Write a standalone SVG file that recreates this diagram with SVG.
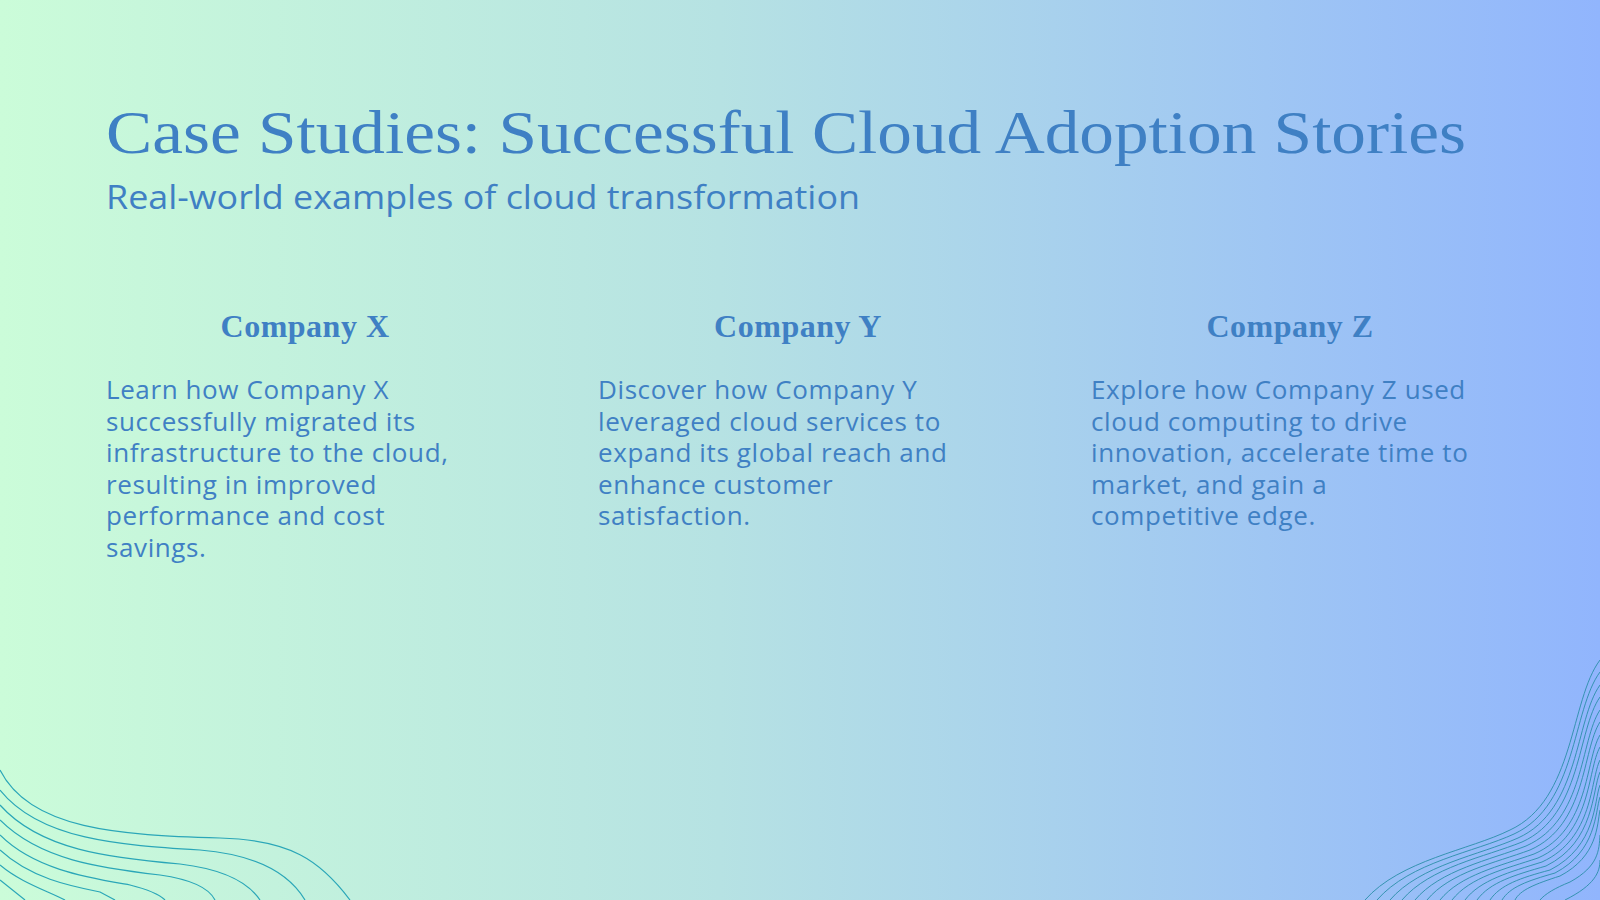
<svg xmlns="http://www.w3.org/2000/svg" width="1600" height="900" viewBox="0 0 1600 900">
<defs>
<linearGradient id="bg" x1="0" y1="0" x2="1" y2="0">
<stop offset="0" stop-color="#cbfcd9"/>
<stop offset="0.45" stop-color="#b6e2e3"/>
<stop offset="1" stop-color="#91b5fd"/>
</linearGradient>
<style>
.t{fill:#3f80c4;font-family:"Liberation Serif","DejaVu Serif",serif}
.h{fill:#3f80c4;font-family:"Liberation Serif","DejaVu Serif",serif;font-weight:bold;font-size:32px;text-anchor:middle;letter-spacing:0.5px}
.b{fill:#3f80c4;font-family:"Open Sans","Noto Sans",sans-serif;font-size:26px;letter-spacing:0.6px}
.w{fill:none;stroke:#2aa6b8;stroke-width:1.2}
.w2{fill:none;stroke:#2a8fa8;stroke-width:0.9}
</style>
</defs>
<rect width="1600" height="900" fill="url(#bg)"/>
<g id="waves-left">
<path class="w" d="M0 770 C30 830 120 835 220 838 C290 840 320 860 350 900"/>
<path class="w" d="M0 790 C40 840 120 845 200 850 C260 855 290 875 305 900"/>
<path class="w" d="M0 805 C40 850 110 858 180 864 C230 870 250 885 260 900"/>
<path class="w" d="M0 820 C40 860 100 868 160 875 C195 880 210 890 215 900"/>
<path class="w" d="M0 835 C35 870 90 878 130 885 C150 890 160 895 165 900"/>
<path class="w" d="M0 850 C30 878 70 886 100 892 L115 900"/>
<path class="w" d="M0 865 C20 882 45 890 65 900"/>
<path class="w" d="M0 880 L25 900"/>
</g>
<g id="waves-right">
<path class="w2" d="M1600 660 C1570 700 1575 800 1510 830 C1470 850 1400 860 1365 900"/>
<path class="w2" d="M1600 672 C1572 710 1577 805 1514 834 C1475 852 1410 862 1377 900"/>
<path class="w2" d="M1600 685 C1575 720 1580 810 1518 838 C1480 855 1420 865 1390 900"/>
<path class="w2" d="M1600 697 C1577 730 1582 815 1522 842 C1485 857 1430 867 1402 900"/>
<path class="w2" d="M1600 710 C1580 740 1585 820 1526 846 C1490 860 1440 870 1415 900"/>
<path class="w2" d="M1600 722 C1582 750 1587 825 1530 850 C1495 863 1450 872 1427 900"/>
<path class="w2" d="M1600 735 C1585 760 1590 830 1534 854 C1500 866 1460 875 1440 900"/>
<path class="w2" d="M1600 747 C1587 770 1592 834 1538 858 C1505 869 1470 877 1452 900"/>
<path class="w2" d="M1600 760 C1590 780 1594 838 1542 862 C1510 872 1480 880 1465 900"/>
<path class="w2" d="M1600 772 C1592 790 1595 842 1546 866 C1515 875 1490 882 1477 900"/>
<path class="w2" d="M1600 785 C1594 800 1597 846 1550 870 C1520 878 1500 885 1490 900"/>
<path class="w2" d="M1600 797 C1595 812 1597 851 1555 873 C1527 881 1510 887 1502 900"/>
<path class="w2" d="M1600 810 C1597 825 1598 856 1560 876 C1535 884 1520 890 1515 900"/>
<path class="w2" d="M1600 835 C1599 850 1599 866 1570 882 C1555 888 1545 894 1540 900"/>
<path class="w2" d="M1600 860 C1600 872 1595 885 1565 900"/>
</g>
<g id="title">
<text class="t" x="106" y="153" font-size="62" textLength="1360" lengthAdjust="spacingAndGlyphs">Case Studies: Successful Cloud Adoption Stories</text>
<text class="b" x="106" y="209" textLength="754" lengthAdjust="spacingAndGlyphs" style="font-size:33px;letter-spacing:0">Real-world examples of cloud transformation</text>
</g>
<g id="company-x">
<text class="h" x="305" y="337">Company X</text>
<text class="b"><tspan x="106" y="399">Learn how Company X</tspan><tspan x="106" y="431">successfully migrated its</tspan><tspan x="106" y="462">infrastructure to the cloud,</tspan><tspan x="106" y="494">resulting in improved</tspan><tspan x="106" y="525">performance and cost</tspan><tspan x="106" y="557">savings.</tspan></text>
</g>
<g id="company-y">
<text class="h" x="798" y="337">Company Y</text>
<text class="b"><tspan x="598" y="399">Discover how Company Y</tspan><tspan x="598" y="431">leveraged cloud services to</tspan><tspan x="598" y="462">expand its global reach and</tspan><tspan x="598" y="494">enhance customer</tspan><tspan x="598" y="525">satisfaction.</tspan></text>
</g>
<g id="company-z">
<text class="h" x="1290" y="337">Company Z</text>
<text class="b"><tspan x="1091" y="399">Explore how Company Z used</tspan><tspan x="1091" y="431">cloud computing to drive</tspan><tspan x="1091" y="462">innovation, accelerate time to</tspan><tspan x="1091" y="494">market, and gain a</tspan><tspan x="1091" y="525">competitive edge.</tspan></text>
</g>
<g id="connectors"/>
</svg>
